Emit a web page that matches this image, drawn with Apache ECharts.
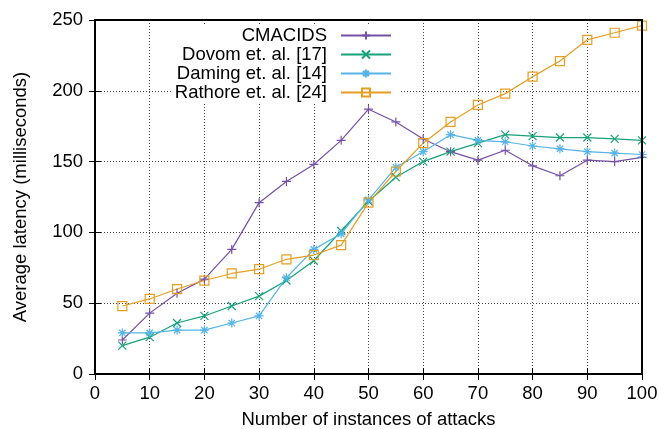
<!DOCTYPE html>
<html>
<head>
<meta charset="utf-8">
<script src="https://cdn.jsdelivr.net/npm/echarts@6/dist/echarts.min.js"></script>
<style>
html,body{margin:0;padding:0;background:#fff;}
#main{width:659px;height:429px;}
</style>
</head>
<body>
<div id="main"></div>
<script>
// data
var xs = [5,10,15,20,25,30,35,40,45,50,55,60,65,70,75,80,85,90,95,100];
var cmacids = [24,43,57,67,88,121,136,148,165,187,178,166,157,151,158,147,140,151,150,153];
var dovom = [20,26,36,41,48,55,66,80,101,122,139,150,157,163,169,168,167,167,166,165];
var daming = [29,29,31,31,36,41,68,88,99,123,146,157,169,165,164,161,159,157,156,155];
var rathore = [48,53,60,66,71,74,81,84,91,121,143,163,178,190,198,210,221,236,241,246];
var names = ['CMACIDS', 'Dovom et. al. [17]', 'Daming et. al. [14]', 'Rathore et. al. [24]'];

var colors = ['#7650a6', '#16a27a', '#56b4e9', '#e69f22'];
var symbols = [
	'path://M0,5L10,5M5,0L5,10',
	'path://M0,0L10,10M10,0L0,10',
	'path://M0,5L10,5M5,0L5,10M1.5,1.5L8.5,8.5M8.5,1.5L1.5,8.5',
	'path://M0,0L10,0L10,10L0,10Z'
];
var sizes = [9, 8, 9, 9];

function pairs(ys){
	var out = [];
	for(var i=0;i<xs.length;i++){
		out.push([xs[i], ys[i]]);
	}
	return out;
}

var font = 'Liberation Sans, Arial, sans-serif';
var fs = 18.5;
var gridLine = {show:true, lineStyle:{color:'#444', type:[1,2], width:1}};

var series = [cmacids, dovom, daming, rathore].map(function(d, i){
	return {
		name: names[i],
		type: 'line',
		data: pairs(d),
		symbol: symbols[i],
		symbolSize: sizes[i],
		showAllSymbol: true,
		color: colors[i],
		lineStyle: {color: colors[i], width: 1.2},
		itemStyle: {color: 'none', borderColor: colors[i], borderWidth: 1.2},
		emphasis: {disabled: true},
		z: 3
	};
});

var myChart = echarts.init(document.getElementById('main'), null, {renderer:'canvas'});
myChart.setOption({
	animation: false,
	backgroundColor: '#fff',
	grid: {left: 95, right: 17, top: 20, bottom: 55, show: true, borderColor: '#000', borderWidth: 2, z: 5,
		containLabel: false, outerBoundsMode: 'none'},
	legend: {
		orient: 'vertical',
		align: 'right',
		right: 259,
		top: 26,
		padding: [0, 8, 2, 4],
		itemGap: 0,
		itemWidth: 50,
		itemHeight: 10,
		backgroundColor: '#fff',
		textStyle: {fontFamily: font, fontSize: fs, color: '#000', lineHeight: 18.7, padding: [0, 9, 0, 0]},
		data: names
	},
	xAxis: [{
		type: 'value', min: 0, max: 100, interval: 10,
		name: 'Number of instances of attacks',
		nameLocation: 'middle', nameGap: 36,
		nameTextStyle: {fontFamily: font, fontSize: fs, color: '#000'},
		axisLine: {show: false},
		axisTick: {show: true, inside: true, length: 6, lineStyle: {color: '#000'}},
		axisLabel: {fontFamily: font, fontSize: fs, color: '#000', margin: 10},
		splitLine: gridLine
	}, {
		type: 'value', min: 0, max: 100, interval: 10, position: 'top',
		axisLine: {show: false},
		axisTick: {show: true, inside: true, length: 6, lineStyle: {color: '#000'}},
		axisLabel: {show: false},
		splitLine: {show: false}
	}],
	yAxis: [{
		type: 'value', min: 0, max: 250, interval: 50,
		name: 'Average latency (milliseconds)',
		nameLocation: 'middle', nameGap: 65,
		nameTextStyle: {fontFamily: font, fontSize: fs, color: '#000'},
		axisLine: {show: false},
		axisTick: {show: true, inside: true, length: 6, lineStyle: {color: '#000'}},
		axisLabel: {fontFamily: font, fontSize: fs, color: '#000', margin: 12},
		splitLine: gridLine
	}, {
		type: 'value', min: 0, max: 250, interval: 50, position: 'right',
		axisLine: {show: false},
		axisTick: {show: true, inside: true, length: 6, lineStyle: {color: '#000'}},
		axisLabel: {show: false},
		splitLine: {show: false}
	}],
	series: series
});
</script>
</body>
</html>
